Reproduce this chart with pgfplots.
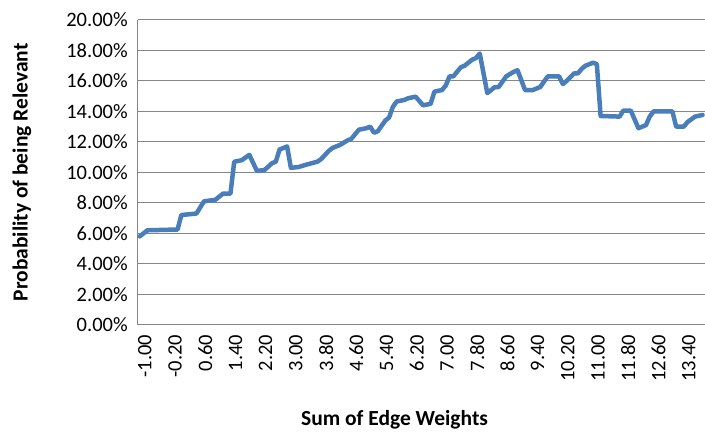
\documentclass[border=0pt]{standalone}
\usepackage{pgfplots}
\pgfplotsset{compat=1.18}
\usepackage{fontspec}
\setmainfont{Carlito}
\definecolor{xlblue}{HTML}{4A7EBB}
\definecolor{xlgrid}{HTML}{868686}
\begin{document}
\begin{tikzpicture}
\begin{axis}[
  width=567bp, height=305bp, scale only axis,
  xmin=-1.05, xmax=13.95, ymin=0, ymax=20,
  axis x line=bottom, axis y line=left,
  axis line style={-, draw=xlgrid, line width=1bp},
  ymajorgrids, grid style={draw=xlgrid, line width=1bp},
  ytick={0,2,4,6,8,10,12,14,16,18,20},
  yticklabels={0.00\%,2.00\%,4.00\%,6.00\%,8.00\%,10.00\%,12.00\%,14.00\%,16.00\%,18.00\%,20.00\%},
  xtick={-1,-0.2,0.6,1.4,2.2,3,3.8,4.6,5.4,6.2,7,7.8,8.6,9.4,10.2,11,11.8,12.6,13.4},
  xticklabels={-1.00,-0.20,0.60,1.40,2.20,3.00,3.80,4.60,5.40,6.20,7.00,7.80,8.60,9.40,10.20,11.00,11.80,12.60,13.40},
  major tick length=0pt,
  tick label style={font=\fontsize{20.5bp}{24bp}\selectfont},
  yticklabel style={anchor=east, inner sep=0pt, xshift=-10bp},
  xticklabel style={xshift=5bp, yshift=-10bp, rotate=90, anchor=east, inner sep=0pt},
  label style={font=\fontsize{21.5bp}{26bp}\selectfont\bfseries},
  xlabel={Sum of Edge Weights},
  ylabel={Probability of being Relevant},
  xlabel style={at={(axis description cs:0.453,-0.3115)}, anchor=center},
  ylabel style={at={(axis description cs:-0.2046,0.5)}, anchor=center},
]
\addplot[draw=xlblue, line width=4.5bp, line join=round, line cap=round, mark=none] coordinates {
(-1.0,5.8) (-0.8,6.2) (0.0,6.25) (0.1,7.2) (0.5,7.3) (0.7,8.1) (1.0,8.2) (1.2,8.6) (1.4,8.6)
(1.5,10.7) (1.7,10.8) (1.9,11.15) (2.1,10.1) (2.3,10.15) (2.5,10.6) (2.6,10.7) (2.7,11.5) (2.9,11.7)
(3.0,10.3) (3.2,10.35) (3.4,10.5) (3.7,10.7) (3.8,10.87) (4.0,11.4) (4.1,11.6) (4.3,11.8) (4.5,12.1)
(4.6,12.2) (4.8,12.8) (5.0,12.9) (5.1,13.0) (5.2,12.6) (5.3,12.7) (5.5,13.4) (5.6,13.6) (5.7,14.3)
(5.8,14.65) (6.0,14.75) (6.1,14.86) (6.3,14.97) (6.5,14.4) (6.7,14.5) (6.8,15.3) (7.0,15.4) (7.1,15.7)
(7.2,16.3) (7.3,16.3) (7.5,16.9) (7.6,17.0) (7.8,17.4) (7.9,17.5) (8.0,17.8) (8.2,15.2) (8.4,15.6)
(8.5,15.6) (8.7,16.3) (8.9,16.6) (9.0,16.7) (9.2,15.4) (9.4,15.4) (9.6,15.6) (9.8,16.3) (10.1,16.3)
(10.2,15.8) (10.3,16.0) (10.5,16.5) (10.6,16.5) (10.7,16.8) (10.8,17.0) (11.0,17.2) (11.1,17.1)
(11.2,13.7) (11.7,13.66) (11.8,14.05) (12.0,14.05) (12.2,12.9) (12.4,13.1) (12.5,13.66) (12.6,14.0)
(13.1,14.0) (13.2,13.0) (13.4,13.0) (13.5,13.3) (13.7,13.66) (13.9,13.77)
};
\end{axis}
\path ([shift={(-138bp,-109bp)}]current axis.south west) rectangle ([shift={(0bp,20bp)}]current axis.north east);
\end{tikzpicture}
\end{document}
